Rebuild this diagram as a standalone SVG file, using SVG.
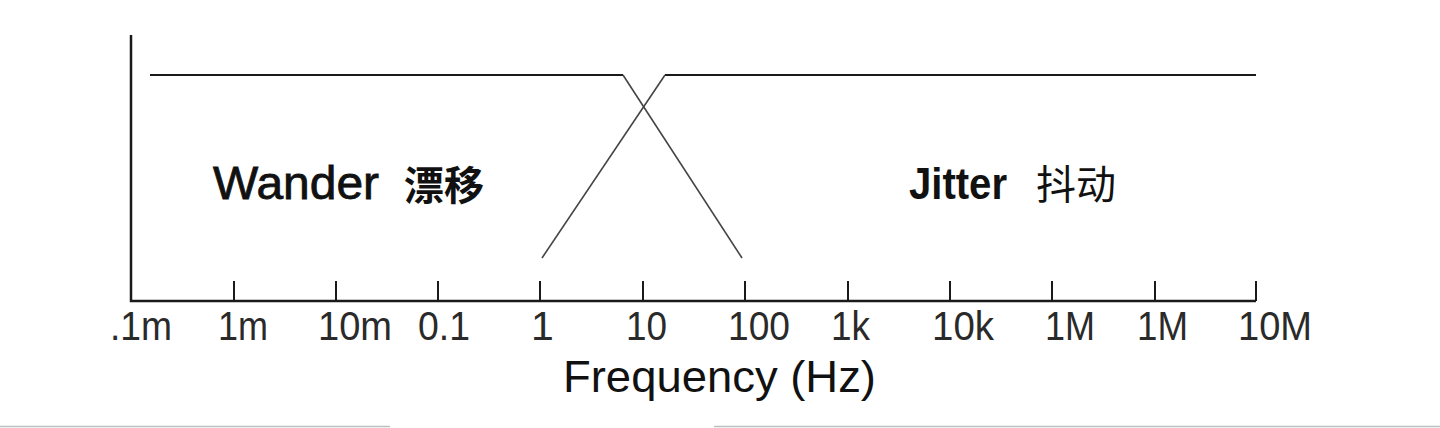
<svg xmlns="http://www.w3.org/2000/svg" width="1440" height="428" viewBox="0 0 1440 428">
<style>
.ax{stroke:#1a1a1a;stroke-width:2.5;fill:none}
.tk{stroke:#1a1a1a;stroke-width:2;fill:none}
.cv{stroke:#1a1a1a;stroke-width:2;fill:none;stroke-linejoin:miter}
.sl{stroke:#444;stroke-width:1.6;fill:none}
.tl{font-family:"Liberation Sans",Arial,sans-serif;font-size:41px;fill:#2a2a2a}
.big{font-family:"Liberation Sans",Arial,"Noto Sans CJK SC",sans-serif;fill:#111}
</style>
<rect width="1440" height="428" fill="#fff"/>
<g id="axes">
<path class="ax" d="M131,35 V301 H1256"/>
<path class="tk" d="M234,281V301M336,281V301M438,281V301M540,281V301M643,281V301M745,281V301M848,281V301M950,281V301M1052,281V301M1155,281V301M1256,281V301"/>
</g>
<g id="connectors">
<path id="wander-curve" class="cv" d="M150,75 H623"/>
<path class="sl" d="M623,75 L742,258"/>
<path id="jitter-curve" class="cv" d="M665,75 H1256"/>
<path class="sl" d="M542,258 L665,75"/>
</g>
<g id="wander">
<text class="big" x="213" y="199" font-size="46" textLength="166" lengthAdjust="spacingAndGlyphs" stroke="#111" stroke-width="0.8">Wander</text>
<text class="big" x="404" y="200" font-size="40" font-family="'Noto Sans CJK SC',sans-serif" font-weight="bold">漂移</text>
</g>
<g id="jitter">
<text class="big" x="909" y="199" font-size="44" font-weight="bold" textLength="98" lengthAdjust="spacingAndGlyphs">Jitter</text>
<text class="big" x="1036" y="199" font-size="40" font-family="'Noto Sans CJK SC',sans-serif">抖动</text>
</g>
<g id="ticklabels">
<text class="tl" x="110" y="340" textLength="62" lengthAdjust="spacingAndGlyphs">.1m</text>
<text class="tl" x="218" y="340" textLength="50" lengthAdjust="spacingAndGlyphs">1m</text>
<text class="tl" x="318" y="340" textLength="74" lengthAdjust="spacingAndGlyphs">10m</text>
<text class="tl" x="418" y="340" textLength="52" lengthAdjust="spacingAndGlyphs">0.1</text>
<text class="tl" x="531" y="340">1</text>
<text class="tl" x="626" y="340" textLength="41" lengthAdjust="spacingAndGlyphs">10</text>
<text class="tl" x="728" y="340" textLength="62" lengthAdjust="spacingAndGlyphs">100</text>
<text class="tl" x="831" y="340" textLength="39" lengthAdjust="spacingAndGlyphs">1k</text>
<text class="tl" x="932" y="340" textLength="62" lengthAdjust="spacingAndGlyphs">10k</text>
<text class="tl" x="1045" y="340" textLength="50" lengthAdjust="spacingAndGlyphs">1M</text>
<text class="tl" x="1137" y="340" textLength="51" lengthAdjust="spacingAndGlyphs">1M</text>
<text class="tl" x="1238" y="340" textLength="74" lengthAdjust="spacingAndGlyphs">10M</text>
</g>
<g id="xlabel">
<text class="big" x="563" y="392" font-size="44" textLength="313" lengthAdjust="spacingAndGlyphs">Frequency (Hz)</text>
</g>
<path d="M0,426.5 H390 M714,426.5 H1440" stroke="#b9c2c0" stroke-width="1.5"/>
</svg>
